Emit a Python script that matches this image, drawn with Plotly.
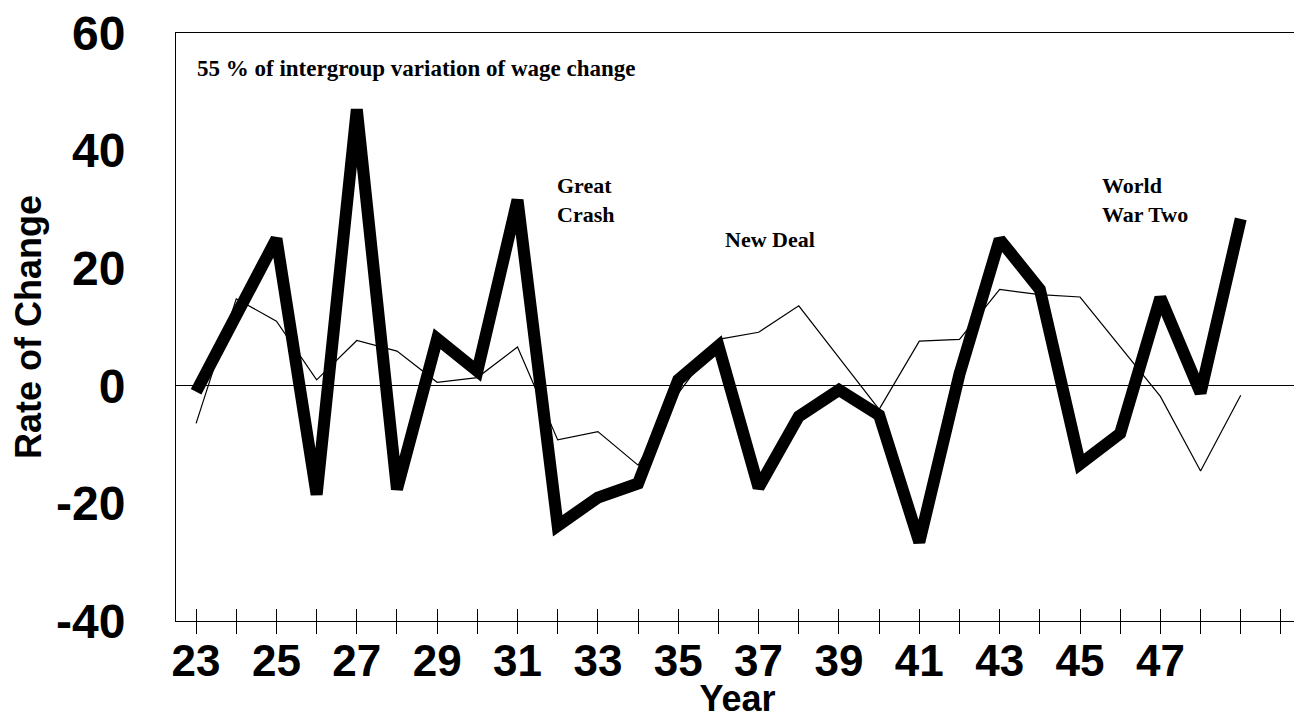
import plotly.graph_objects as go

years = list(range(23, 50))
# heavy line: rate of change (thick)
heavy = [-1, 12, 25, -18.5, 47, -17.6, 8, 2.5, 31.6, -23.8, -19, -16.6, 1, 6.8,
         -17.3, -5.2, -0.7, -5, -26.6, 2, 24.9, 16.4, -13.3, -8.1, 15, -1.2, 28.4]
# thin line
thin = [-6.4, 14.8, 11, 1, 7.7, 5.9, 0.6, 1.4, 6.6, -9.2, -7.8, -13.5, -1.3, 7.9,
        9.1, 13.6, 4.8, -4, 7.6, 7.9, 16.4, 15.5, 15.1, 6.6, -1.8, -14.5, -1.6]

tick_years = list(range(23, 51))
tick_text = [str(y) if (y % 2 == 1 and y <= 47) else "" for y in tick_years]
y_ticks = [-40, -20, 0, 20, 40, 60]

notes = [
    ("55 % of intergroup variation of wage change", 22.97, 53.9, 23),
    ("Great<br>Crash", 31.93, 31.6, 22),
    ("New Deal", 36.11, 24.8, 22),
    ("World<br>War Two", 45.49, 31.6, 22),
]

sans = "Arial, Liberation Sans, sans-serif"
serif = "Times New Roman, Liberation Serif, serif"

fig = go.Figure()
fig.add_trace(go.Scatter(x=years, y=thin, mode="lines",
                         line=dict(color="black", width=1.2), showlegend=False))
fig.add_trace(go.Scatter(x=years, y=heavy, mode="lines",
                         line=dict(color="black", width=12), showlegend=False))
# invisible trace on overlay axis to carry the inner tick marks
fig.add_trace(go.Scatter(x=[None], y=[None], xaxis="x2", yaxis="y", showlegend=False))

fig.update_layout(
    width=1294, height=711,
    margin=dict(l=168, r=3, t=25, b=98),
    paper_bgcolor="white", plot_bgcolor="white",
    xaxis=dict(range=[22.5, 50.45], tickmode="array", tickvals=tick_years, ticktext=tick_text,
               ticks="outside", ticklen=12, tickwidth=1, tickcolor="black",
               showline=True, linecolor="black", linewidth=1, mirror=True,
               showgrid=False, zeroline=False, automargin=False,
               tickfont=dict(family=sans, size=44, color="black", weight="bold"),
               ticklabelstandoff=-11, ticklabeloverflow="allow",
               title=dict(text="Year", font=dict(family=sans, size=36, color="black", weight="bold"),
                          standoff=12)),
    xaxis2=dict(range=[22.5, 50.45], overlaying="x", anchor="y", side="bottom",
                tickmode="array", tickvals=tick_years, ticktext=[""] * len(tick_years),
                ticks="inside", ticklen=12, tickwidth=1, tickcolor="black",
                showline=False, showgrid=False, zeroline=False, automargin=False),
    yaxis=dict(range=[-40, 60], tickmode="array", tickvals=y_ticks,
               ticktext=[str(v) for v in y_ticks],
               ticks="", showline=True, linecolor="black", linewidth=1, mirror=True,
               showgrid=False, zeroline=True, zerolinecolor="black", zerolinewidth=1,
               automargin=False,
               tickfont=dict(family=sans, size=48, color="black", weight="bold"),
               ticklabelstandoff=40, ticklabeloverflow="allow",
               title=dict(text="Rate of Change", font=dict(family=sans, size=36, color="black", weight="bold"),
                          standoff=22)),
)

for text, x, y, sz in notes:
    fig.add_annotation(x=x, y=y, xref="x", yref="y", text=text, showarrow=False,
                       xanchor="left", yanchor="middle", align="left",
                       font=dict(family=serif, size=sz, color="black", weight="bold"))

fig.write_html("out.html")
